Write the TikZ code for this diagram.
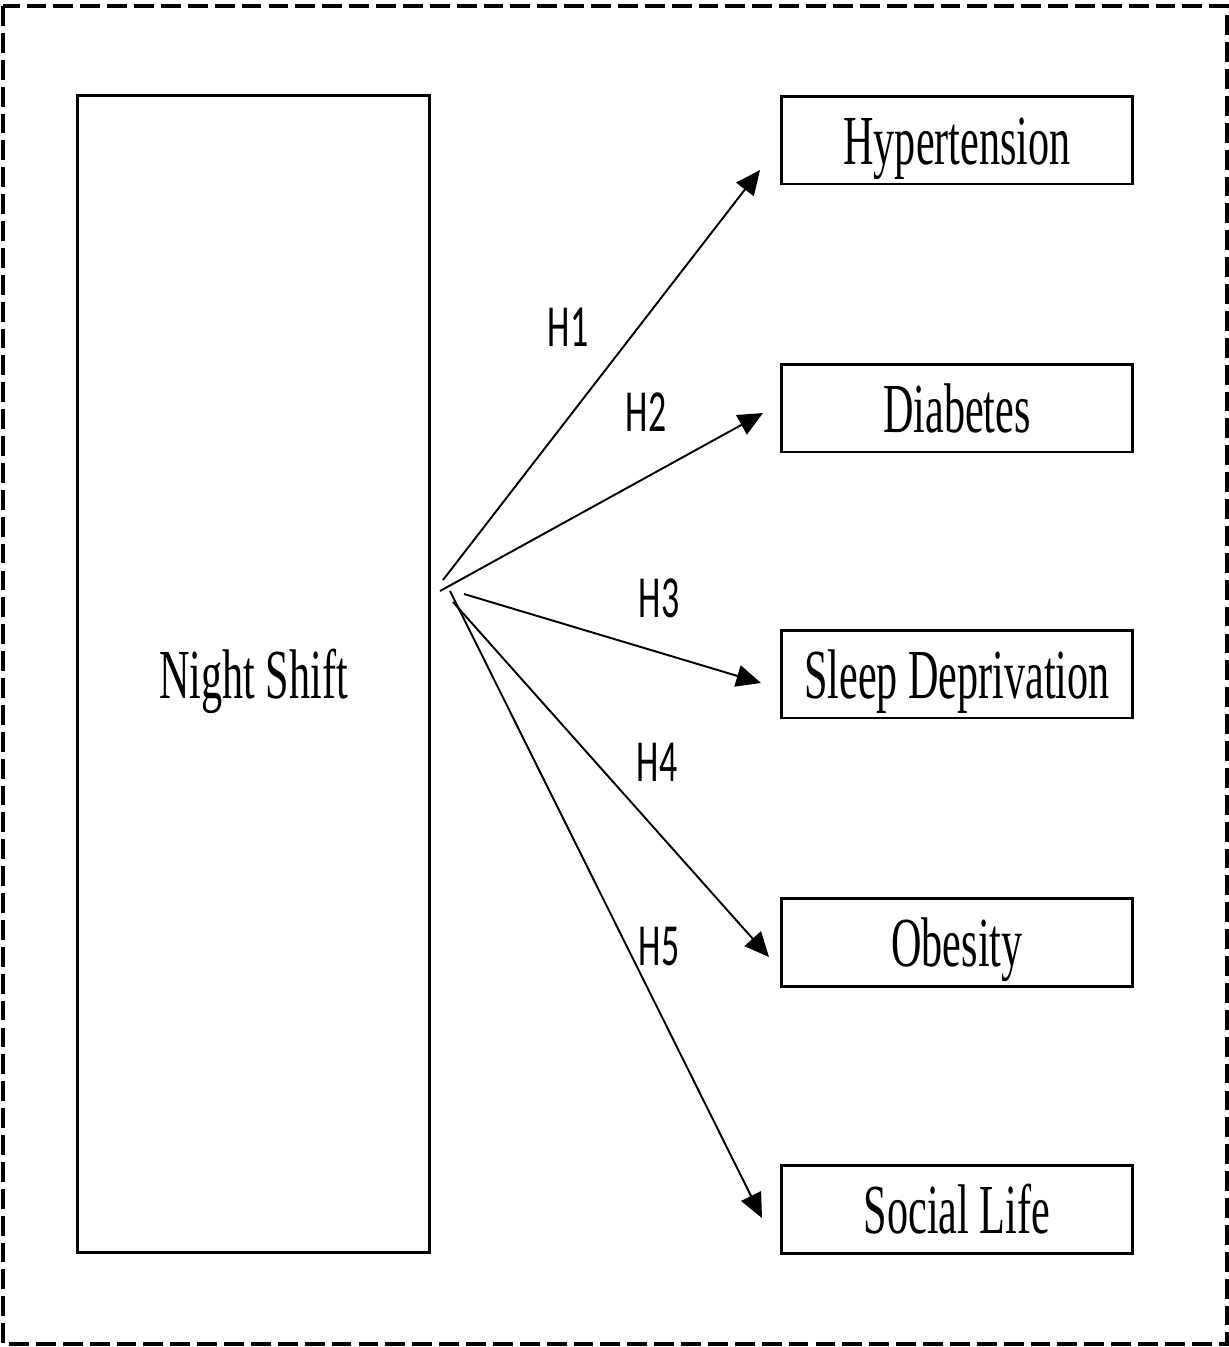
\documentclass[tikz,border=0pt]{standalone}
\usepackage{fontspec}
\setmainfont[FakeStretch=0.6]{Liberation Serif}
\newfontfamily\hfont[FakeStretch=0.6]{Carlito}
\usetikzlibrary{arrows.meta}
\tikzset{
	frame/.style={line width=2pt, dash pattern=on 11.3pt off 4pt},
	box/.style={draw, line width=1.7pt, minimum width=7.04cm, minimum height=1.76cm, inner sep=0pt, text height=27.5pt, text depth=0pt, font=\fontsize{40}{48}\selectfont},
	bigbox/.style={box, minimum width=7.06cm, minimum height=23.16cm},
	hyp/.style={line width=1.1pt, -{Triangle[length=14pt, width=12.5pt]}},
	hlabel/.style={font=\hfont\fontsize{34}{40}\selectfont, inner sep=0pt}
}

\begin{document}
\begin{tikzpicture}[x=0.02cm,y=-0.02cm]
		% Draw frame.
		\useasboundingbox (0,0) rectangle (1229,1347);
		\draw[frame] (3,6) rectangle (1227,1344);
		
		% Draw boxes.
		\node[bigbox] (night) at (253.5,674) {Night Shift};
		\node[box] (hyper) at (957,140) {Hypertension};
		\node[box] (diab) at (957,408) {Diabetes};
		\node[box] (sleep) at (957,674) {Sleep Deprivation};
		\node[box] (obes) at (957,942.5) {Obesity};
		\node[box] (social) at (957,1209) {Social Life};
		
		% Arrow ends.
		\coordinate (s1) at (443,580);		\coordinate (e1) at (760,170);
		\coordinate (s2) at (440,591);		\coordinate (e2) at (763,413);
		\coordinate (s3) at (464,594);		\coordinate (e3) at (761,683);
		\coordinate (s4) at (453,602);		\coordinate (e4) at (769,957);
		\coordinate (s5) at (450,591);		\coordinate (e5) at (762,1218);
		\draw[hyp] (s1) -- (e1);
		\draw[hyp] (s2) -- (e2);
		\draw[hyp] (s3) -- (e3);
		\draw[hyp] (s4) -- (e4);
		\draw[hyp] (s5) -- (e5);
		
		% Labels.
		\node[hlabel] (l1) at (568,327) {H1};
		\node[hlabel] (l2) at (646,412) {H2};
		\node[hlabel] (l3) at (659,598) {H3};
		\node[hlabel] (l4) at (657,762) {H4};
		\node[hlabel] (l5) at (659,947) {H5};
	\end{tikzpicture}
\end{document}
